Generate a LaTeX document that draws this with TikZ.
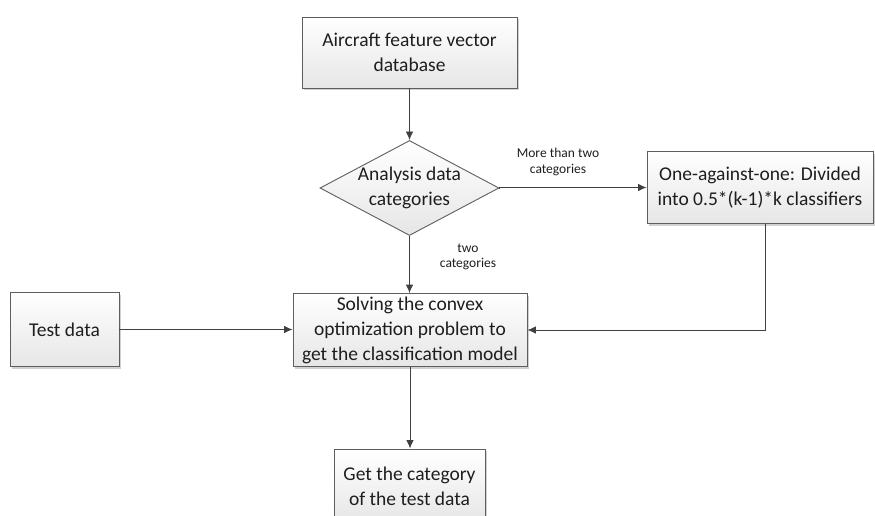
\documentclass[tikz,border=0pt]{standalone}
\usepackage{fontspec}
\setmainfont{Carlito}
\usetikzlibrary{shapes.geometric,arrows.meta,shadows}

\definecolor{edgegray}{HTML}{5E5E5E}
\definecolor{linegray}{HTML}{404040}
\definecolor{fillbottom}{HTML}{E6E6E6}
\definecolor{inkgray}{HTML}{1E1E1E}

\tikzset{
  flowbox/.style={draw=edgegray, line width=0.9pt, top color=white, bottom color=fillbottom,
    drop shadow={shadow xshift=2pt, shadow yshift=-2pt, fill=black, opacity=0.18},
    align=center, inner sep=0pt, text=inkgray,
    font=\fontsize{19.5}{25}\selectfont},
  decide/.style={diamond, draw=edgegray, line width=0.9pt, top color=white, bottom color=fillbottom,
    inner sep=0pt, minimum width=179pt, minimum height=95pt},
  caption/.style={align=center, text=inkgray, font=\fontsize{19.5}{25}\selectfont},
  note/.style={align=center, text=inkgray, font=\fontsize{13.5}{15.5}\selectfont},
  link/.style={draw=linegray, line width=0.9pt, -{Latex[length=8.5pt,width=7.5pt]}}
}

\begin{document}
\begin{tikzpicture}[x=1pt,y=-1pt]
  \useasboundingbox (0,0) rectangle (875,516);

  % boxes of the flow
  \node[flowbox, minimum width=215pt, minimum height=71pt] (db) at (409.5,52.5)
    {Aircraft feature vector\\database};
  \node[decide] (dec) at (409.5,188) {};
  \node[caption] (declabel) at (dec.center) {Analysis data\\categories};
  \node[flowbox, minimum width=226pt, minimum height=72pt] (ovo) at (760,187.5)
    {One-against-one: Divided\\into 0.5*(k-1)*k classifiers};
  \node[flowbox, minimum width=234pt, minimum height=73pt] (solve) at (410,330)
    {Solving the convex\\optimization problem to\\get the classification model};
  \node[flowbox, minimum width=109pt, minimum height=74pt] (test) at (64.5,329.5)
    {Test data};
  \node[flowbox, minimum width=151pt, minimum height=74pt] (result) at (409.5,486)
    {Get the category\\of the test data};

  % connectors
  \draw[link] (db.south) -- (dec.north);
  \draw[link] (dec.east) -- (ovo.west -| dec.east) -- (ovo.west);
  \draw[link] (dec.south) -- (dec.south |- solve.north);
  \draw[link] (test.east) -- (test.east -| solve.west);
  \coordinate (ovodrop) at ([xshift=5pt]ovo.south);
  \draw[link] (ovodrop) |- (solve.east);
  \draw[link] (solve.south) -- (solve.south |- result.north);

  % branch labels
  \node[note] (multi) at (558,162) {More than two\\categories};
  \node[note] (two) at (468,257) {two\\categories};
\end{tikzpicture}
\end{document}
